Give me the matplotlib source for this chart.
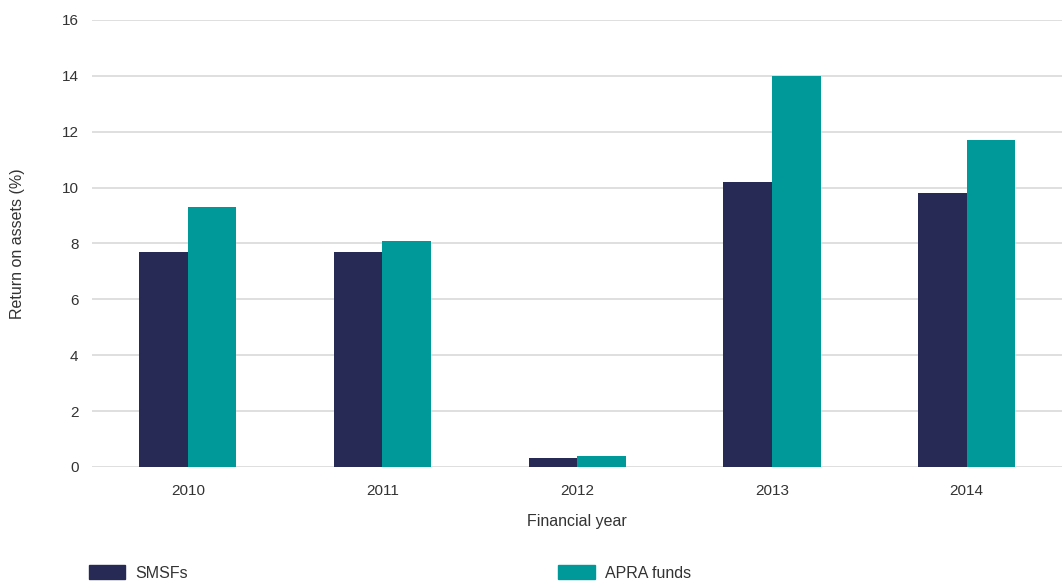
import numpy as np
import matplotlib.pyplot as plt
from matplotlib.patches import Patch

plt.rcParams['font.family'] = ['Liberation Sans', 'DejaVu Sans']

# Dados
anos = ['2010', '2011', '2012', '2013', '2014']
smsfs = [7.7, 7.7, 0.3, 10.2, 9.8]
apra = [9.3, 8.1, 0.4, 14.0, 11.7]

cor_smsf = '#262a55'
cor_apra = '#00999a'

fig = plt.figure(figsize=(10.62, 5.88), dpi=100)
ax = fig.add_axes([0.087, 0.206, 0.913, 0.76])

x = np.arange(len(anos))
largura = 0.25
ax.bar(x - largura / 2, smsfs, largura, color=cor_smsf, zorder=3)
ax.bar(x + largura / 2, apra, largura, color=cor_apra, zorder=3)

ax.set_xlim(-0.49, 4.49)
ax.set_ylim(0, 16)
ax.set_yticks(np.arange(0, 17, 2))
ax.set_xticks(x)
ax.set_xticklabels(anos)
ax.yaxis.grid(True, color='#d9d9d9', linewidth=1.2, zorder=0)
ax.tick_params(axis='both', length=0, labelsize=11, colors='#333333')
ax.tick_params(axis='y', pad=10)
ax.tick_params(axis='x', pad=12)
for s in ax.spines.values():
    s.set_visible(False)

ax.set_xlabel('Financial year', fontsize=11.5, color='#333333', labelpad=12)
ax.set_ylabel('Return on assets (%)', fontsize=11.5, color='#333333', labelpad=26)

handles = [Patch(color=cor_smsf, label='SMSFs'), Patch(color=cor_apra, label='APRA funds')]
fig.legend(handles=handles, loc='lower left', bbox_to_anchor=(0.07, -0.012), ncol=2,
           frameon=False, fontsize=11.5, handlelength=2.3, handleheight=1.0,
           columnspacing=23.2, handletextpad=0.6, labelcolor='#333333')

plt.savefig('out.png', dpi=100)
